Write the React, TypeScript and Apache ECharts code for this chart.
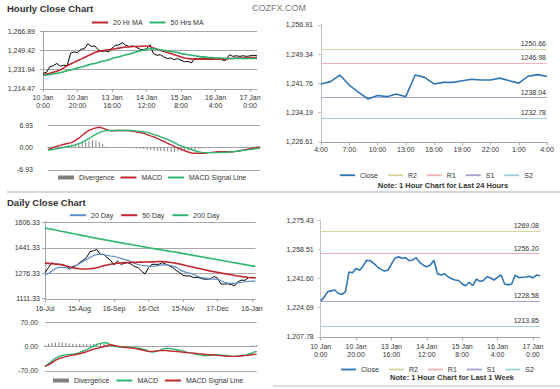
import React, { useEffect, useRef } from 'react';
import * as echarts from 'echarts';

// ---------- tick labels ----------
const hourlyTicks = ['10 Jan\n0:00', '10 Jan\n20:00', '13 Jan\n16:00', '14 Jan\n12:00', '15 Jan\n8:00', '16 Jan\n4:00', '17 Jan\n0:00'];
const dayTicks = ['4:00', '7:00', '10:00', '13:00', '16:00', '19:00', '22:00', '1:00', '4:00'];
const dailyTicks = ['16-Jul', '15-Aug', '16-Sep', '16-Oct', '15-Nov', '17-Dec', '16-Jan'];

const yTicksA = [1266.89, 1249.42, 1231.94, 1214.47];
const yTicksB = [6.93, 0, -6.93];
const yTicksC = [1256.91, 1249.34, 1241.76, 1234.19, 1226.61];
const yTicksD = [1606.33, 1441.33, 1276.33, 1111.33];
const yTicksE = [70, 0, -70];
const yTicksF = [1275.43, 1258.51, 1241.6, 1224.69, 1207.78];

// ---------- hourly (2-hour sampled) ----------
const hourlyClose = [1228.5, 1229.5, 1234.5, 1235.5, 1237.5, 1235, 1236, 1235.5, 1247, 1248,
  1247.5, 1250.5, 1251, 1255.5, 1253, 1253.5, 1250, 1248.5, 1249, 1248,
  1251.5, 1254, 1254.5, 1256.5, 1254, 1253, 1253.5, 1252.5, 1250.5, 1250,
  1251, 1254.5, 1246.5, 1245, 1245.5, 1243.5, 1242, 1242.5, 1241, 1242,
  1240.5, 1239, 1239.5, 1238, 1242, 1241.5, 1242.5, 1242, 1241.5, 1242.5,
  1242, 1242.5, 1240.5, 1240.5, 1245.5, 1244, 1244.5, 1244, 1244.5, 1244,
  1244.5, 1245, 1244.5];
const hourlyMA20 = [1227.5, 1228, 1228.5, 1229.5, 1230.5, 1231.5, 1233.5, 1235.5, 1237, 1238.5,
  1240, 1241.5, 1243, 1244.5, 1246, 1247.5, 1248.5, 1249, 1249.5, 1250,
  1250.5, 1251, 1251.5, 1252, 1252.5, 1252.5, 1253, 1253, 1253, 1253.5,
  1253.5, 1253, 1251.5, 1250.5, 1249.5, 1248.5, 1247.5, 1246.5, 1245.5, 1244.5,
  1243.5, 1242.5, 1242, 1241.5, 1241.5, 1241.5, 1241.5, 1241.5, 1241.5, 1241.5,
  1241.5, 1241.5, 1241.5, 1241.5, 1242, 1242, 1242.5, 1242.5, 1242.5, 1243,
  1243, 1243, 1243];
const hourlyMA50 = [1226.5, 1227, 1227.5, 1228, 1228.5, 1229, 1230, 1231, 1231.5, 1232.5,
  1233.5, 1234, 1235, 1236, 1237, 1237.5, 1238.5, 1239.5, 1240, 1241,
  1242, 1243, 1243.5, 1244.5, 1245.5, 1246, 1247, 1248, 1249, 1249.5,
  1250.5, 1251, 1251, 1250.5, 1250, 1249.5, 1249, 1248.5, 1248, 1247.5,
  1246.5, 1246, 1245.5, 1245, 1244.5, 1244, 1243.5, 1243.5, 1243, 1243,
  1242.5, 1242.5, 1242.5, 1242, 1242, 1242, 1242, 1242, 1242, 1242,
  1242, 1242, 1242];
const hourlyMACD = [-0.6, -0.3, 0.2, 0.5, 0.8, 1.1, 1.3, 1.6, 2.2, 2.9,
  3.8, 4.6, 5.3, 5.8, 6.1, 6.3, 6.0, 5.6, 5.3, 5.2,
  5.3, 5.3, 5.3, 5.3, 5.2, 5.0, 4.8, 4.6, 4.4, 4.0,
  3.6, 3.3, 2.8, 2.3, 1.8, 1.3, 0.8, 0.3, -0.2, -0.6,
  -1.0, -1.4, -1.7, -1.8, -1.8, -1.8, -1.8, -1.6, -1.5, -1.4,
  -1.3, -1.3, -1.3, -1.3, -1.3, -1.2, -1.0, -0.8, -0.6, -0.4,
  -0.2, 0, 0.1];
const hourlySignal = [-0.9, -0.7, -0.5, -0.3, -0.1, 0.1, 0.3, 0.5, 0.8, 1.2,
  1.6, 2.2, 2.8, 3.5, 4.1, 4.6, 5.0, 5.3, 5.3, 5.3,
  5.3, 5.3, 5.3, 5.3, 5.3, 5.2, 5.1, 5.0, 4.9, 4.7,
  4.4, 4.0, 3.7, 3.3, 2.9, 2.5, 2.0, 1.5, 0.9, 0.5,
  0.1, -0.3, -0.7, -1.0, -1.3, -1.5, -1.6, -1.6, -1.6, -1.6,
  -1.6, -1.5, -1.5, -1.4, -1.3, -1.2, -1.1, -0.9, -0.8, -0.6,
  -0.5, -0.3, -0.2];
const hourlyDiv = [0.2, 0.3, 0.4, 0.5, 0.5, 0.6, 0.8, 1.0, 1.2, 1.4,
  1.6, 1.8, 2.0, 2.2, 2.1, 1.7, 1.0, 0.3, 0.1, 0,
  0, 0, 0, 0, -0.1, -0.2, -0.3, -0.4, -0.5, -0.7,
  -0.8, -0.9, -1.0, -1.1, -1.2, -1.2, -1.3, -1.3, -1.2, -1.1,
  -1.0, -0.9, -0.8, -0.6, -0.4, -0.3, -0.2, -0.1, 0, 0.1,
  0.2, 0.2, 0.2, 0.1, 0, 0, 0.1, 0.1, 0.2, 0.2,
  0.3, 0.3, 0.3];

// ---------- last 24 hours ----------
const dayClose = [1241.6, 1242.2, 1243.9, 1241.3, 1239.4, 1237.7, 1238.6, 1238.3, 1239.0, 1238.3,
  1243.9, 1243.3, 1241.6, 1242.0, 1242.0, 1242.4, 1242.8, 1242.6, 1242.6, 1243.1,
  1242.4, 1241.8, 1243.6, 1244.0, 1243.5];
const pivots24 = [1250.66, 1246.98, 1238.04, 1232.78];
const pivotsWeek = [1269.08, 1256.2, 1228.58, 1213.85];

// ---------- daily ----------
const dailyClose = [1280, 1313, 1345, 1334, 1334, 1334, 1325, 1302, 1320, 1325,
  1345, 1360, 1377, 1415, 1422, 1430, 1400, 1398, 1377, 1360,
  1330, 1356, 1334, 1340, 1345, 1334, 1320, 1313, 1290, 1272,
  1313, 1334, 1334, 1334, 1345, 1335, 1325, 1313, 1295, 1280,
  1262, 1259, 1259, 1248, 1250, 1245, 1238, 1238, 1240, 1255,
  1245, 1206, 1206, 1208, 1203, 1195, 1223, 1231, 1231, 1248,
  1250, 1246];
const daily20 = [1263, 1275, 1290, 1305, 1315, 1314, 1312, 1311, 1311, 1325,
  1340, 1353, 1365, 1378, 1390, 1398, 1400, 1396, 1392, 1388,
  1385, 1380, 1373, 1366, 1360, 1350, 1340, 1333, 1328, 1325,
  1322, 1321, 1323, 1327, 1330, 1332, 1328, 1322, 1316, 1300,
  1290, 1280, 1278, 1268, 1258, 1250, 1246, 1243, 1240, 1238,
  1236, 1228, 1218, 1212, 1210, 1210, 1214, 1218, 1221, 1223,
  1225, 1225];
const daily50 = [1342, 1340, 1338, 1336, 1334, 1330, 1325, 1318, 1312, 1308,
  1305, 1304, 1304, 1305, 1308, 1312, 1318, 1325, 1330, 1334,
  1338, 1341, 1343, 1345, 1346, 1347, 1347, 1348, 1348, 1349,
  1349, 1350, 1351, 1352, 1352, 1350, 1347, 1344, 1340, 1336,
  1331, 1325, 1320, 1315, 1310, 1305, 1300, 1295, 1290, 1286,
  1282, 1278, 1274, 1270, 1266, 1262, 1258, 1255, 1252, 1249,
  1247, 1246];
const daily200 = [1570, 1565, 1561, 1556, 1552, 1547, 1543, 1538, 1534, 1529,
  1525, 1520, 1516, 1511, 1506, 1502, 1498, 1494, 1490, 1486,
  1482, 1478, 1474, 1470, 1466, 1462, 1458, 1454, 1450, 1446,
  1442, 1438, 1434, 1431, 1427, 1423, 1419, 1416, 1412, 1408,
  1404, 1400, 1396, 1392, 1388, 1384, 1380, 1376, 1372, 1368,
  1364, 1360, 1356, 1352, 1348, 1344, 1340, 1336, 1332, 1328,
  1324, 1321];
const dailyMACD = [-57, -50, -42, -34, -29, -26, -24, -23, -22, -21,
  -17, -13, -9.5, -4, 2, 6, 9, 11, 10, 5,
  0, -1, -1.5, -2, -2.5, -3, -4, -5, -7, -10,
  -14, -16, -14, -11, -7, -5, -6, -8, -9.5, -11,
  -14, -17, -19, -21, -23, -25, -26.7, -26, -25, -24,
  -24, -25, -26, -27, -28.5, -28, -27, -25, -24, -21,
  -17, -14];
const dailySignal = [-57, -53, -47, -40, -35, -32, -29, -27, -25, -23,
  -21, -18, -15, -11, -8, -5.5, -3, 0, 3, 5,
  3, 1, -1, -2, -3.5, -4.8, -6, -8, -10, -12.5,
  -14.3, -14, -13, -12, -11.4, -12, -13, -14, -14.5, -15.5,
  -16.5, -17.5, -18.5, -19.3, -20.5, -21.5, -22.5, -23.3, -23.8, -24.5,
  -25.5, -26.5, -27.3, -28, -28.5, -28.3, -27.5, -26.5, -25.5, -24.3,
  -23, -22];
const dailyDiv = [4, 8, 10, 11, 11, 11, 10, 9, 8, 7,
  7, 7, 7, 7, 8, 8, 8, 7, 5, 2,
  -1, -1, -0.5, 0, 0.5, 1, 1.5, 1.5, 1, 0.5,
  -1.5, -2, -1, 0.5, 1.5, 2, 2, 1.5, 1, 0.5,
  0, -0.5, -1, -1.5, -1.5, -2, -2, -1.5, -1, -0.5,
  0, 0.5, 1, 1, 0.5, 0.5, 1, 1.5, 2, 2.5,
  3, 3.5];

// ---------- last week hourly (2-hour sampled) ----------
const weekClose = [1228.6, 1231, 1234, 1234.5, 1235, 1233, 1232.5, 1234, 1245.5, 1245,
  1247.5, 1246.5, 1249, 1252.3, 1252, 1250.5, 1248.5, 1247, 1246, 1246.5,
  1250, 1253.5, 1254.3, 1253.5, 1253.8, 1252, 1252.5, 1253.8, 1251, 1249.4,
  1248.5, 1249.5, 1252.3, 1244.5, 1243.7, 1244.5, 1242.7, 1241.5, 1240.8, 1240.5,
  1238.5, 1237.5, 1239.5, 1237.5, 1241.4, 1240, 1240.5, 1242.7, 1242, 1240.8,
  1242.5, 1243.7, 1238.5, 1238, 1238.5, 1243.7, 1242.2, 1242.4, 1242.6, 1243,
  1242, 1243.7, 1243.3];

// ---------- styles ----------
const FONT = '"Liberation Sans", Arial, sans-serif';
const TXT = '#333333';
const AXC = '#a6a6a6';
const GRIDC = '#a8a8a8';
const RED = '#c3262f';
const GREEN = '#2cb56e';
const BLUE = '#2f76b5';
const BLUE20 = '#5b8dc9';
const BARC = '#7f7f7f';
const pivotColors = ['#d8d49c', '#f0b3b5', '#a7a3cf', '#9fd3dc'];
const LINE_ICON = 'path://M0,0h16v2H0z';
const BAR_ICON = 'path://M0,0h16v4H0z';

const idx = (n: number) => Array.from({ length: n }, (_, i) => String(i));
const fmtComma = (v: number) => {
  const [a, b] = v.toFixed(2).split('.');
  return a.replace(/\B(?=(\d{3})+(?!\d))/g, ',') + '.' + b;
};
const fmtPlain = (v: number) => v.toFixed(2);

function valueAxis(gridIndex: number, ticks: number[], fmt: (v: number) => string, margin: number, showLine: boolean, lineColor = AXC) {
  const lo = Math.min(...ticks);
  const hi = Math.max(...ticks);
  const pad = (hi - lo) * 0.004;
  return {
    type: 'value', gridIndex,
    min: lo - pad, max: hi + pad,
    axisLine: { show: showLine, lineStyle: { color: lineColor, width: 1 } },
    axisTick: { show: showLine, customValues: ticks, length: 3, lineStyle: { color: lineColor } },
    axisLabel: { customValues: ticks, formatter: fmt, fontSize: 7, color: TXT, fontFamily: FONT, margin },
    splitLine: { show: false },
  };
}

function catAxis(gridIndex: number, n: number, step: number, labels: string[], margin: number, showLabels: boolean) {
  return {
    type: 'category', gridIndex, data: idx(n), boundaryGap: false,
    axisLine: { show: true, onZero: true, lineStyle: { color: AXC, width: 1 } },
    axisTick: { show: showLabels, interval: (i: number) => i % step === 0, length: 3, lineStyle: { color: AXC } },
    axisLabel: {
      show: showLabels, interval: (i: number) => i % step === 0,
      formatter: (_v: string, i: number) => labels[Math.round(i / step)] ?? '',
      fontSize: 7, lineHeight: 8, color: TXT, fontFamily: FONT, margin,
    },
    splitLine: { show: false },
  };
}

const gridMark = (vals: number[]) => ({
  silent: true, z: 1, symbol: ['none', 'none'], label: { show: false },
  lineStyle: { color: GRIDC, width: 1, type: 'solid' },
  emphasis: { disabled: true },
  data: vals.map((v) => ({ yAxis: v })),
  animation: false,
});

const line = (name: string, ai: number, data: number[], color: string, width: number, extra: any = {}) => ({
  type: 'line', name, xAxisIndex: ai, yAxisIndex: ai, data, symbol: 'none', showSymbol: false,
  lineStyle: { color, width }, itemStyle: { color }, z: 3, animation: false, clip: false, ...extra,
});

const bars = (name: string, ai: number, data: number[]) => ({
  type: 'bar', name, xAxisIndex: ai, yAxisIndex: ai, data, barWidth: 1,
  itemStyle: { color: BARC }, z: 2, animation: false,
});

const pivotSeries = (names: string[], ai: number, vals: number[]) =>
  vals.map((v, k) => ({
    type: 'line', name: names[k], xAxisIndex: ai, yAxisIndex: ai, data: [], symbol: 'none',
    lineStyle: { color: pivotColors[k], width: 1 }, itemStyle: { color: pivotColors[k] }, animation: false,
    markLine: {
      silent: true, z: 2, symbol: ['none', 'none'],
      lineStyle: { color: pivotColors[k], width: 1.2, type: 'solid' },
      label: { show: true, position: 'insideEndTop', formatter: () => v.toFixed(2), color: TXT, fontSize: 7, fontFamily: FONT, distance: [1, 2] },
      emphasis: { disabled: true },
      data: [{ yAxis: v }],
      animation: false,
    },
  }));

const legendNames: Record<string, string> = {
  divE: 'Divergence', macdE: 'MACD', sigE: 'MACD Signal Line',
  closeF: 'Close', r2F: 'R2', r1F: 'R1', s1F: 'S1', s2F: 'S2',
};
const legendBase = {
  padding: 0, itemWidth: 16, itemHeight: 4, selectedMode: false, icon: LINE_ICON,
  textStyle: { fontSize: 7, color: TXT, fontFamily: FONT },
  formatter: (n: string) => legendNames[n] ?? n,
};

export default function App() {
  const ref = useRef<HTMLDivElement>(null);
  useEffect(() => {
    const chart = echarts.init(ref.current!, null, { renderer: 'svg', width: 560, height: 389 });
    const option: any = {
      animation: false,
      backgroundColor: '#ffffff',
      textStyle: { fontFamily: FONT },
      grid: [
        { left: 43, top: 31, width: 214, height: 58, containLabel: false, outerBoundsMode: 'none' },
        { left: 48, top: 125, width: 212, height: 45, containLabel: false, outerBoundsMode: 'none' },
        { left: 321, top: 24.3, width: 226, height: 118, containLabel: false, outerBoundsMode: 'none' },
        { left: 45, top: 222, width: 210.5, height: 77, containLabel: false, outerBoundsMode: 'none' },
        { left: 45, top: 322, width: 211.7, height: 49, containLabel: false, outerBoundsMode: 'none' },
        { left: 320.7, top: 220, width: 219.3, height: 117.3, containLabel: false, outerBoundsMode: 'none' },
      ],
      xAxis: [
        catAxis(0, hourlyClose.length, 10, hourlyTicks, 4, true),
        catAxis(1, hourlyMACD.length, 10, [], 4, false),
        catAxis(2, dayClose.length, 3, dayTicks, 3, true),
        catAxis(3, dailyClose.length, 10, dailyTicks, 5, true),
        catAxis(4, dailyMACD.length, 10, [], 4, false),
        catAxis(5, weekClose.length, 10, hourlyTicks, 5, true),
      ],
      yAxis: [
        valueAxis(0, yTicksA, fmtComma, 8, true),
        valueAxis(1, yTicksB, fmtPlain, 15, false),
        valueAxis(2, yTicksC, fmtComma, 8, true, '#c4c4c4'),
        valueAxis(3, yTicksD, fmtPlain, 5, true),
        valueAxis(4, yTicksE, fmtPlain, 7, false),
        valueAxis(5, yTicksF, fmtComma, 7, true, '#c4c4c4'),
      ],
      legend: [
        { ...legendBase, data: ['20 Hr MA', '50 Hrs MA'], left: 92, top: 19, itemGap: 7 },
        { ...legendBase, data: [{ name: 'Divergence', icon: BAR_ICON }, 'MACD', 'MACD Signal Line'], left: 58, top: 174, itemGap: 6 },
        { ...legendBase, data: ['Close', 'R2', 'R1', 'S1', 'S2'], left: 340, top: 171.7, itemGap: 10, itemWidth: 15 },
        { ...legendBase, data: ['20 Day', '50 Day', '200 Day'], left: 70, top: 211.7, itemGap: 8 },
        { ...legendBase, data: [{ name: 'divE', icon: BAR_ICON }, 'macdE', 'sigE'], left: 53, top: 377, itemGap: 7 },
        { ...legendBase, data: ['closeF', 'r2F', 'r1F', 's1F', 's2F'], left: 341, top: 366, itemGap: 10, itemWidth: 15 },
      ],
      series: [
        line('closeA', 0, hourlyClose, '#000000', 1, { markLine: gridMark(yTicksA.slice(0, 3)) }),
        line('20 Hr MA', 0, hourlyMA20, RED, 1.6),
        line('50 Hrs MA', 0, hourlyMA50, GREEN, 1.6),

        bars('Divergence', 1, hourlyDiv),
        line('MACD', 1, hourlyMACD, RED, 1.4, { markLine: gridMark([yTicksB[0], yTicksB[2]]) }),
        line('MACD Signal Line', 1, hourlySignal, GREEN, 1.4),

        line('Close', 2, dayClose, BLUE, 1.6, { z: 4 }),
        ...pivotSeries(['R2', 'R1', 'S1', 'S2'], 2, pivots24),

        line('closeD', 3, dailyClose, '#000000', 1, { markLine: gridMark(yTicksD.slice(0, 3)) }),
        line('20 Day', 3, daily20, BLUE20, 1.2),
        line('50 Day', 3, daily50, RED, 1.6),
        line('200 Day', 3, daily200, GREEN, 1.6),

        bars('divE', 4, dailyDiv),
        line('macdE', 4, dailyMACD, GREEN, 1.4, { markLine: gridMark([yTicksE[0], yTicksE[2]]) }),
        line('sigE', 4, dailySignal, RED, 1.4),

        line('closeF', 5, weekClose, BLUE, 1.6, { z: 4 }),
        ...pivotSeries(['r2F', 'r1F', 's1F', 's2F'], 5, pivotsWeek),
      ],
      graphic: [
        { type: 'text', x: 7, y: 8, style: { text: 'Hourly Close Chart', font: `bold 9.5px ${FONT}`, fill: '#333', align: 'left', verticalAlign: 'middle', textAlign: 'left', textVerticalAlign: 'middle' } },
        { type: 'text', x: 279, y: 8, style: { text: 'COZFX.COM', font: `9px ${FONT}`, fill: '#777', align: 'center', verticalAlign: 'middle', textAlign: 'center', textVerticalAlign: 'middle' } },
        { type: 'text', x: 7, y: 202, style: { text: 'Daily Close Chart', font: `bold 9.5px ${FONT}`, fill: '#333', align: 'left', verticalAlign: 'middle', textAlign: 'left', textVerticalAlign: 'middle' } },
        { type: 'text', x: 443, y: 185, style: { text: 'Note: 1 Hour Chart for Last 24 Hours', font: `bold 7.5px ${FONT}`, fill: '#333', align: 'center', verticalAlign: 'middle', textAlign: 'center', textVerticalAlign: 'middle' } },
        { type: 'text', x: 452, y: 377.5, style: { text: 'Note: 1 Hour Chart for Last 1 Week', font: `bold 7.5px ${FONT}`, fill: '#333', align: 'center', verticalAlign: 'middle', textAlign: 'center', textVerticalAlign: 'middle' } },
        { type: 'rect', shape: { x: 7, y: 191, width: 553, height: 2 }, style: { fill: '#d6d6d6' } },
        { type: 'rect', shape: { x: 273, y: 385, width: 287, height: 2 }, style: { fill: '#dcdcdc' } },
      ],
    };
    chart.setOption(option);
    return () => chart.dispose();
  }, []);
  return (
    <div
      ref={ref}
      style={{ position: 'absolute', left: 0, top: 0, width: 560, height: 389, background: '#fff' }}
    />
  );
}
